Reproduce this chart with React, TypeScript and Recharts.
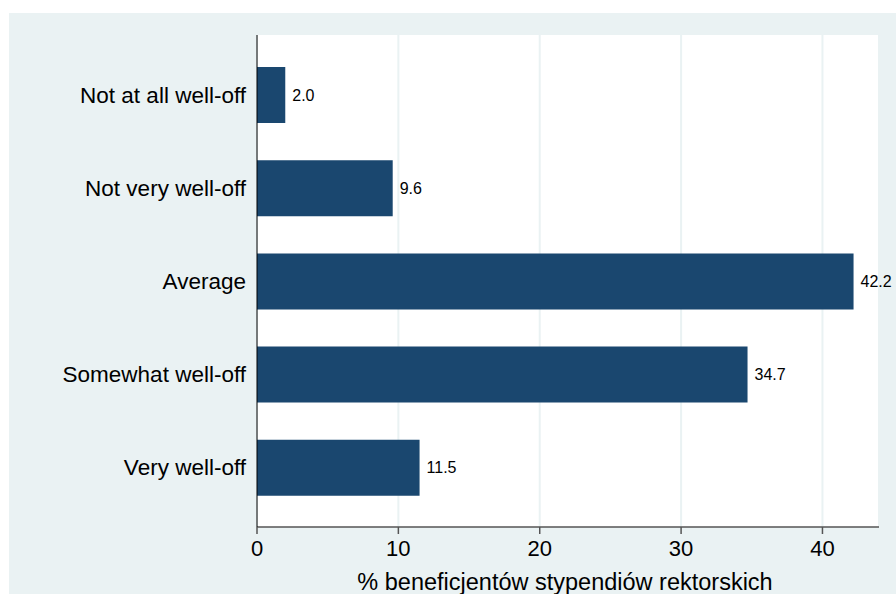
import React from "react";
import { BarChart, Bar, XAxis, YAxis, CartesianGrid, LabelList } from "recharts";

const categories = ["Not at all well-off", "Not very well-off", "Average", "Somewhat well-off", "Very well-off"];
const values = [2.0, 9.6, 42.2, 34.7, 11.5];
const xTicks = [0, 10, 20, 30, 40];
const xTitle = "% beneficjentów stypendiów rektorskich";

const data = categories.map((c, i) => ({ name: c, value: values[i] }));
const FONT = "'Liberation Sans', Arial, sans-serif";

export default function App() {
  return (
    <div style={{ position: "relative", width: 896, height: 594 }}>
      <style>{"html,body{margin:0;padding:0;overflow:hidden} #root{overflow:visible}"}</style>
      <div style={{ position: "absolute", left: 9, top: 13, width: 887, height: 581, background: "#eaf2f3" }}>
        <BarChart
          width={887}
          height={581}
          data={data}
          layout="vertical"
          margin={{ top: 22, right: 17, bottom: 0, left: 0 }}
          barCategoryGap={0}
        >
          <CartesianGrid fill="#ffffff" horizontal={false} vertical={true} stroke="#eaf2f3" strokeWidth={2} />
          <XAxis
            type="number"
            domain={[0, 44]}
            ticks={xTicks}
            height={67}
            axisLine={{ stroke: "#555555", strokeWidth: 1.5 }}
            tickLine={{ stroke: "#555555", strokeWidth: 1.5 }}
            tickSize={7}
            tick={{ fill: "#000", fontSize: 22, fontFamily: FONT }}
            tickMargin={6}
            label={{ value: xTitle, position: "insideBottom", offset: 4, dx: -3, fill: "#000", fontSize: 23.5, fontFamily: FONT }}
          />
          <YAxis
            type="category"
            dataKey="name"
            width={248}
            padding={{ top: 13, bottom: 13 }}
            axisLine={{ stroke: "#000000", strokeWidth: 1 }}
            tickLine={false}
            tickMargin={5}
            tick={{ fill: "#000", fontSize: 22.5, fontFamily: FONT }}
          />
          <Bar dataKey="value" fill="#1a476f" barSize={56} isAnimationActive={false}>
            <LabelList
              dataKey="value"
              position="right"
              offset={7}
              formatter={(v: number) => v.toFixed(1)}
              style={{ fill: "#000", fontSize: 16, fontFamily: FONT }}
            />
          </Bar>
        </BarChart>
      </div>
    </div>
  );
}
